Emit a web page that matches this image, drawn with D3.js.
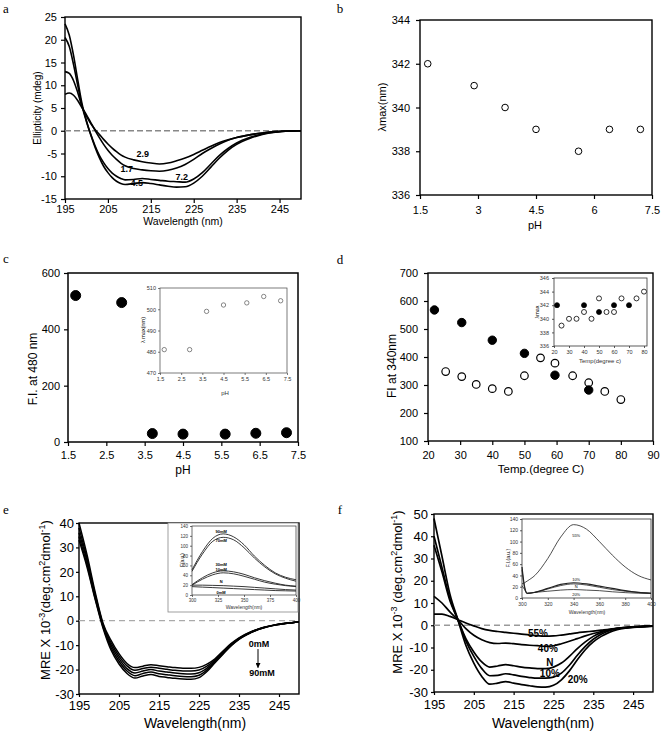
<!DOCTYPE html>
<html><head><meta charset="utf-8">
<script src="https://cdn.jsdelivr.net/npm/d3@7"></script>
<style>body{margin:0;background:#fff}svg{display:block}</style>
</head><body>
<script>
// ================= DATA =================
// Panel a: CD spectra at different pH (ellipticity, mdeg)
const aWave = [195,196,197,198,199,200,201,202,203,204,205,206,207,208,209,211,213,215,217,219,221,223,225,227,229,231,233,235,238,241,244,247,250];
const aSeriesNames = ["1.7","2.9","7.2","4.5"];
const aPH17 = [8.0,8.3,7.8,6.6,5.0,3.5,1.8,0.1,-1.5,-3.0,-4.3,-5.4,-6.3,-7.1,-7.7,-8.3,-8.6,-8.8,-8.9,-8.7,-8.2,-7.4,-6.3,-5.0,-3.9,-2.9,-2.1,-1.5,-0.9,-0.5,-0.2,-0.05,0];
const aPH29 = [13.0,12.6,11.0,8.3,5.2,3.2,1.6,0.3,-0.8,-1.9,-2.9,-3.8,-4.6,-5.3,-5.8,-6.4,-6.8,-7.1,-7.3,-7.1,-6.6,-6.0,-5.2,-4.3,-3.4,-2.6,-2.0,-1.5,-0.9,-0.5,-0.2,-0.05,0];
const aPH72 = [20.5,18.5,14.5,9.8,5.3,2.0,-0.8,-3.3,-5.4,-7.0,-8.3,-9.3,-10.0,-10.5,-10.8,-10.7,-10.5,-10.7,-10.9,-11.1,-11.2,-11.3,-10.6,-9.2,-7.3,-5.4,-3.9,-2.7,-1.5,-0.7,-0.3,-0.05,0];
const aPH45 = [23.5,21.0,16.5,11.0,5.8,2.2,-0.9,-3.6,-5.9,-7.8,-9.2,-10.3,-11.1,-11.6,-11.8,-11.6,-11.4,-11.6,-11.9,-12.2,-12.4,-12.3,-11.5,-10.0,-8.0,-6.0,-4.3,-3.0,-1.7,-0.8,-0.3,-0.05,0];
const aLabelPos = [[209.4,-8.4],[213.1,-5.1],[222.2,-10.2],[211.7,-11.5]];
const aXTicks = [195,205,215,225,235,245];
const aYTicks = [-15,-10,-5,0,5,10,15,20,25];

// Panel b: lambda max vs pH
const bPH = [1.7,2.9,3.7,4.5,5.6,6.4,7.2];
const bLmax = [342,341,340,339,338,339,339];
const bXTicks = [1.5,3,4.5,6,7.5];
const bYTicks = [336,338,340,342,344];

// Panel c: F.I. at 480 nm vs pH, inset lambda max
const cPH = [1.7,2.9,3.7,4.5,5.6,6.4,7.2];
const cFI = [520,495,30,28,28,31,33];
const cInsetLmax = [481,481,499,502,503,506,504];
const cXTicks = [1.5,2.5,3.5,4.5,5.5,6.5,7.5];
const cYTicks = [0,200,400,600];
const cInsetYTicks = [470,480,490,500,510];

// Panel d: FI at 340 nm vs temperature
const dTempFilled = [22,30.5,40,50,59.5,70];
const dFIFilled = [568,523,460,413,335,282];
const dTempOpen = [25.5,30.5,35,40,45,50,55,59.5,65,70,75,80];
const dFIOpen = [348,330,302,287,277,333,397,378,333,308,277,248];
const dInsTempFilled = [22,40,50,60,70];
const dInsLmaxFilled = [342,342,341,342,342];
const dInsTempOpen = [25,30,35,40,45,50,55,60,65,75,80];
const dInsLmaxOpen = [339,340,340,341,340,343,341,341,343,343,344];
const dXTicks = [20,30,40,50,60,70,80,90];
const dYTicks = [100,200,300,400,500,600,700];
const dInsXTicks = [20,30,40,50,60,70,80];
const dInsYTicks = [336,338,340,342,344,346];

// Panel e: MRE vs wavelength for 0-90 mM
const eWave = [195,197,199,201,203,205,207,209,211,213,215,217,219,221,223,225,227,229,231,233,235,238,241,244,247,250];
const e0mM  = [40,27,12,-1,-8,-13.5,-17.5,-19.2,-18.6,-18.0,-18.4,-18.8,-19.2,-19.5,-19.5,-19.1,-17.8,-15.6,-12.4,-9.4,-7.0,-4.5,-2.8,-1.7,-1.0,-0.5];
const e10mM = [38,25.5,11,-1.5,-9,-14.5,-18.5,-20.3,-19.6,-19.0,-19.5,-19.9,-20.3,-20.6,-20.6,-20.2,-18.6,-16.1,-12.8,-9.7,-7.2,-4.6,-2.9,-1.7,-1.0,-0.5];
const e30mM = [36,24.5,10.5,-2,-10,-15.5,-19.6,-21.4,-20.6,-20.0,-20.6,-21.0,-21.4,-21.7,-21.8,-21.3,-19.4,-16.5,-13.1,-9.9,-7.3,-4.7,-2.9,-1.7,-1.0,-0.5];
const e70mM = [34.5,23,9.5,-2.5,-11,-16.6,-20.6,-22.5,-21.6,-21.0,-21.7,-22.1,-22.5,-22.8,-22.9,-22.3,-20.1,-16.8,-13.4,-10.1,-7.5,-4.8,-3.0,-1.8,-1.0,-0.5];
const e90mM = [33,22,9,-3,-12,-17.7,-21.6,-23.5,-22.6,-22.0,-22.8,-23.2,-23.6,-23.9,-24.0,-23.3,-20.8,-17.2,-13.7,-10.3,-7.6,-4.9,-3.0,-1.8,-1.0,-0.5];
const eXTicks = [195,205,215,225,235,245];
const eYTicks = [-30,-20,-10,0,10,20,30,40];
// Panel e inset: fluorescence
const eInsWave = [300,310,320,330,340,350,360,370,380,390,400];
const eIns90 = [51,88,115,124,118,102,79,60,45,36,31];
const eIns70 = [48,83,109,117,112,96,75,57,43,34,28];
const eIns30 = [21,35,45,49,47,42,35,29,24,20,18];
const eIns10 = [20,32,41,45,43,38,32,26,22,19,17];
const eInsN  = [20,20,19.5,19,18,17,15.5,14,12.5,11,10];
const eIns0  = [17,16,15,14,13,12,11,10,9,8.5,8];
const eInsLabels = ["90mM","70mM","30mM","10mM","N","0mM"];
const eInsLabelY = [128,111,62,51,27,5];
const eInsXTicks = [300,325,350,375,400];
const eInsYTicks = [0,20,40,60,80,100,120,140];

// Panel f: MRE vs wavelength at different %
const fWave = [195,197,199,201,203,205,207,209,211,213,215,217,219,221,223,225,227,229,231,233,235,237,239,241,244,247,250];
const f55 = [5,5,4,2.5,1,-0.3,-1.5,-2.3,-2.8,-3.2,-3.6,-4.0,-4.4,-4.7,-4.9,-4.8,-4.4,-3.9,-3.4,-3.0,-2.6,-2.2,-1.8,-1.5,-1.1,-0.7,-0.4];
const f40 = [13,10,6,2.5,-1.5,-4.5,-6.5,-7.8,-8.2,-8.0,-8.3,-8.7,-9.0,-9.2,-9.5,-9.2,-8.3,-7.2,-6.0,-4.8,-3.7,-2.8,-2.0,-1.5,-1.0,-0.7,-0.4];
const fN  = [40,26,12,2.5,-6,-12,-16.5,-18.8,-18.3,-17.7,-18.2,-18.8,-19.2,-19.5,-19.5,-18.8,-17.0,-14.0,-10.5,-7.5,-5.0,-3.3,-2.2,-1.3,-0.8,-0.5,-0.3];
const f10 = [36,24,11,2.5,-7,-14,-19.5,-22.7,-22.5,-21.8,-22.3,-23.0,-23.5,-23.8,-23.8,-23.3,-21.5,-18.0,-13.5,-9.5,-6.3,-4.0,-2.5,-1.5,-0.8,-0.5,-0.3];
const f20 = [48,31,14,2.5,-9,-17,-23,-26.5,-26.0,-25.3,-26.0,-26.7,-27.2,-27.7,-27.8,-27.0,-24.5,-20.5,-15.5,-11.0,-7.5,-5.0,-3.2,-2.0,-1.1,-0.6,-0.3];
const fLabels = ["55%","40%","N","10%","20%"];
const fLabelPos = [[221.1,-3.9],[223.6,-10.3],[224.1,-16.6],[224.1,-21.9],[231.1,-24.3]];
const fXTicks = [195,205,215,225,235,245];
const fYTicks = [-30,-20,-10,0,10,20,30,40,50];
// Panel f inset
const fInsWave = [300,302,304,310,320,330,340,350,360,370,380,390,400];
const fInsA = [25,27,30,40,70,108,130,122,100,76,55,40,32];
const fInsB = [55,20,8,10,17,24,27,25,21,17,13,10,8];
const fInsC = [50,18,8,10,16,22,25,23,19,15,12,10,9];
const fInsD = [22,15,9,10,12,14,15,14,13,11,9.5,8.5,8];
const fInsLabels = ["55%","10%","N","20%"];
const fInsLabelY = [110,32,20,6];
const fInsXTicks = [300,320,340,360,380,400];
const fInsYTicks = [0,20,40,60,80,100,120,140];

// ================= DRAWING =================
const SANS = "'Liberation Sans', Arial, Helvetica, sans-serif";
const SERIF = "'Liberation Serif', 'Times New Roman', serif";
const svg = d3.select("body").append("svg").attr("width",662).attr("height",733)
  .style("font-family",SANS).style("background","#fff");

const defs = svg.append("defs");
defs.append("marker").attr("id","arr").attr("viewBox","0 0 10 10").attr("refX",9).attr("refY",5)
  .attr("markerWidth",5).attr("markerHeight",5).attr("orient","auto")
  .append("path").attr("d","M0,0L10,5L0,10z").attr("fill","#000");

function panel(o){
  const x = d3.scaleLinear().domain(o.xd).range([o.l,o.r]);
  const y = d3.scaleLinear().domain(o.yd).range([o.b,o.t]);
  const g = svg.append("g");
  const fmt = d => String(d);
  const col = o.col || "#000";
  const xa = g.append("g").attr("transform",`translate(0,${o.b})`)
    .call(d3.axisBottom(x).tickValues(o.xt).tickSize(o.ts).tickSizeOuter(0).tickPadding(o.xpad).tickFormat(o.xf||fmt));
  const ya = g.append("g").attr("transform",`translate(${o.l},0)`)
    .call(d3.axisLeft(y).tickValues(o.yt).tickSize(o.ts).tickSizeOuter(0).tickPadding(o.ypad).tickFormat(o.yf||fmt));
  [xa,ya].forEach(a=>{
    a.attr("font-family",null).attr("font-size",null);
    a.select(".domain").remove();
    a.selectAll(".tick line").attr("stroke",col).attr("stroke-width",o.sw);
    a.selectAll(".tick text").attr("fill",o.tcol||"#000").style("font-size",o.fs+"px").style("font-family",SANS);
  });
  g.append("rect").attr("x",o.l).attr("y",o.t).attr("width",o.r-o.l).attr("height",o.b-o.t)
    .attr("fill",o.fill||"none").attr("stroke",col).attr("stroke-width",o.bw||o.sw);
  return {g,x,y};
}
function text(x,y,s,fs,opt={}){
  return svg.append("text").attr("x",x).attr("y",y).text(s)
    .attr("text-anchor",opt.anchor||"middle").style("font-size",fs+"px")
    .style("font-family",opt.family||SANS).style("font-weight",opt.weight||"normal")
    .attr("fill",opt.fill||"#000");
}
function vtext(x,y,s,fs){
  return svg.append("text").attr("transform",`translate(${x},${y}) rotate(-90)`).attr("text-anchor","middle")
    .attr("dy","0.35em").style("font-size",fs+"px").text(s);
}
function curve(p, xs, ys, w, c){
  const line = d3.line().x((d,i)=>p.x(xs[i])).y(d=>p.y(d)).curve(d3.curveMonotoneX);
  p.g.append("path").attr("d",line(ys)).attr("fill","none").attr("stroke",c||"#000").attr("stroke-width",w);
}
function dashedZero(p, x0, x1, c, w, da){
  p.g.append("line").attr("x1",p.x(x0)).attr("x2",p.x(x1)).attr("y1",p.y(0)).attr("y2",p.y(0))
    .attr("stroke",c).attr("stroke-width",w).attr("stroke-dasharray",da);
}
function dots(p, xs, ys, r, filled, sw, c){
  p.g.selectAll(null).data(ys).enter().append("circle")
    .attr("cx",(d,i)=>p.x(xs[i])).attr("cy",d=>p.y(d)).attr("r",r)
    .attr("fill",filled?(c||"#000"):"#fff").attr("stroke",c||"#000").attr("stroke-width",sw);
}

// ---------- Panel a ----------
const pa = panel({l:65,r:301,t:17,b:199,xd:[195,250],yd:[-15,25],xt:aXTicks,yt:aYTicks,ts:4,xpad:2,ypad:4,fs:11,sw:1.2,bw:1.4});
dashedZero(pa,195,250,"#888",1.3,"6,3");
[aPH17,aPH29,aPH72,aPH45].forEach(s=>curve(pa,aWave,s,1.6));
aSeriesNames.forEach((n,i)=>{
  pa.g.append("text").attr("x",pa.x(aLabelPos[i][0])).attr("y",pa.y(aLabelPos[i][1])).attr("dy","0.35em")
    .attr("text-anchor","middle").style("font-size","9px").style("font-weight","bold").text(n);
});
vtext(37,108,"Ellipticity (mdeg)",10);
text(183,225,"Wavelength (nm)",10.5);
text(6,13,"a",13,{family:SERIF});

// ---------- Panel b ----------
const pb = panel({l:420,r:652,t:20,b:195,xd:[1.5,7.5],yd:[336,344],xt:bXTicks,yt:bYTicks,ts:4,xpad:7,ypad:6,fs:11,sw:1.2,bw:1.4});
dots(pb,bPH,bLmax,3.3,false,1);
vtext(382,107,"λmax(nm)",11);
text(535,229,"pH",11);
text(340,13,"b",13,{family:SERIF});

// ---------- Panel c ----------
const pc = panel({l:68,r:298,t:273,b:442,xd:[1.5,7.5],yd:[0,600],xt:cXTicks,yt:cYTicks,ts:4,xpad:5,ypad:4,fs:11,sw:1.2,bw:1.5});
dots(pc,cPH,cFI,5,true,1);
const pci = panel({l:160,r:287,t:288,b:373,xd:[1.5,7.5],yd:[470,510],xt:cXTicks,yt:cInsetYTicks,ts:2,xpad:2,ypad:2,fs:5.5,sw:0.7,col:"#444",tcol:"#333",fill:"#fff"});
dots(pci,cPH,cInsetLmax,2.2,false,0.7,"#555");
vtext(143,330,"λ max(nm)",5.5);
text(225,395,"pH",6,{fill:"#333"});
vtext(33,369,"F.I. at 480 nm",12);
text(183,474,"pH",12);
text(6,263,"c",13,{family:SERIF});

// ---------- Panel d ----------
const pd = panel({l:428,r:653,t:273,b:441,xd:[20,90],yd:[100,700],xt:dXTicks,yt:dYTicks,ts:4,xpad:6,ypad:6,fs:11,sw:1.2,bw:1.4});
dots(pd,dTempOpen,dFIOpen,3.8,false,1.2);
dots(pd,dTempFilled,dFIFilled,4.2,true,1);
const pdi = panel({l:554,r:647,t:278,b:346,xd:[20,82],yd:[336,346],xt:dInsXTicks,yt:dInsYTicks,ts:2,xpad:2,ypad:3,fs:5.5,sw:0.8,col:"#333",tcol:"#333",fill:"#fff"});
dots(pdi,dInsTempOpen,dInsLmaxOpen,2.5,false,0.8);
dots(pdi,dInsTempFilled,dInsLmaxFilled,2.5,true,0.8);
vtext(537,312,"λmax",5.5);
text(600,363,"Temp(degree c)",6,{fill:"#333"});
vtext(392,366,"FI at 340nm",12);
text(541,473,"Temp.(degree C)",11.5);
text(340,264,"d",13,{family:SERIF});

// ---------- Panel e ----------
const pe = panel({l:79,r:299,t:523,b:694,xd:[195,250],yd:[-30,40],xt:eXTicks,yt:eYTicks,ts:3,xpad:4,ypad:2,fs:13,sw:1.2,bw:1.4});
dashedZero(pe,195,250,"#aaa",1.2,"6,4");
[e0mM,e10mM,e30mM,e70mM,e90mM].forEach(s=>curve(pe,eWave,s,1.5));
pe.g.append("text").attr("x",pe.x(240)).attr("y",pe.y(-9.5)).attr("dy","0.35em").attr("text-anchor","middle")
  .style("font-size","9px").style("font-weight","bold").text("0mM");
pe.g.append("line").attr("x1",pe.x(239.75)).attr("x2",pe.x(239.75)).attr("y1",pe.y(-11.6)).attr("y2",pe.y(-19.2))
  .attr("stroke","#000").attr("stroke-width",1).attr("marker-end","url(#arr)");
pe.g.append("text").attr("x",pe.x(240.75)).attr("y",pe.y(-21.4)).attr("dy","0.35em").attr("text-anchor","middle")
  .style("font-size","9px").style("font-weight","bold").text("90mM");
// inset e
svg.append("rect").attr("x",168).attr("y",523).attr("width",130).attr("height",89).attr("fill","#fff").attr("stroke","#888").attr("stroke-width",0.8);
const pei = panel({l:192,r:296,t:526,b:595,xd:[300,400],yd:[0,140],xt:eInsXTicks,yt:eInsYTicks,ts:2,xpad:2,ypad:2,fs:4.5,sw:0.7,col:"#333",tcol:"#333"});
[eIns90,eIns70,eIns30,eIns10,eInsN,eIns0].forEach(s=>curve(pei,eInsWave,s,0.9,"#222"));
eInsLabels.forEach((n,i)=>{
  pei.g.append("text").attr("x",pei.x(328)).attr("y",pei.y(eInsLabelY[i])).attr("dy","0.35em").attr("text-anchor","middle")
    .style("font-size","4px").style("font-weight","bold").text(n);
});
vtext(182,560,"F(a.u.)",4.5);
text(244,609,"Wavelength(nm)",5,{fill:"#333"});
// e titles
{
  const t = svg.append("text").attr("transform","translate(45,600) rotate(-90)").attr("text-anchor","middle")
    .attr("dy","0.35em").style("font-size","13px");
  t.append("tspan").text("MRE X 10");
  t.append("tspan").attr("dy",-5).style("font-size","9px").text("-3");
  t.append("tspan").attr("dy",5).text("(deg.cm");
  t.append("tspan").attr("dy",-5).style("font-size","9px").text("2");
  t.append("tspan").attr("dy",5).text("dmol");
  t.append("tspan").attr("dy",-5).style("font-size","9px").text("-1");
  t.append("tspan").attr("dy",5).text(")");
}
text(195,728,"Wavelength(nm)",14);
text(6,514,"e",13,{family:SERIF});

// ---------- Panel f ----------
const pf = panel({l:434,r:653,t:514,b:692,xd:[195,250],yd:[-30,50],xt:fXTicks,yt:fYTicks,ts:3,xpad:5,ypad:3,fs:13,sw:1.2,bw:1.4});
dashedZero(pf,195,250,"#999",1.3,"6,4");
[f55,f40,fN,f10,f20].forEach(s=>curve(pf,fWave,s,1.7));
fLabels.forEach((n,i)=>{
  pf.g.append("text").attr("x",pf.x(fLabelPos[i][0])).attr("y",pf.y(fLabelPos[i][1])).attr("dy","0.35em")
    .attr("text-anchor","middle").style("font-size","10px").style("font-weight","bold").text(n);
});
const pfi = panel({l:522,r:651,t:519,b:598,xd:[300,400],yd:[0,140],xt:fInsXTicks,yt:fInsYTicks,ts:2,xpad:2,ypad:2,fs:5,sw:0.8,col:"#333",tcol:"#333",fill:"#fff"});
[fInsA,fInsB,fInsC,fInsD].forEach((s,i)=>curve(pfi,fInsWave,s,i==1?1.2:0.8,"#222"));
fInsLabels.forEach((n,i)=>{
  pfi.g.append("text").attr("x",pfi.x(342)).attr("y",pfi.y(fInsLabelY[i])).attr("dy","0.35em").attr("text-anchor","middle")
    .style("font-size","4px").text(n);
});
vtext(508,558,"F.I.(a.u.)",5);
text(587,614,"Wavelength(nm)",5,{fill:"#333"});
{
  const t = svg.append("text").attr("transform","translate(397,592) rotate(-90)").attr("text-anchor","middle")
    .attr("dy","0.35em").style("font-size","13px");
  t.append("tspan").text("MRE X 10");
  t.append("tspan").attr("dy",-5).style("font-size","9px").text("-3");
  t.append("tspan").attr("dy",5).text(" (deg.cm");
  t.append("tspan").attr("dy",-5).style("font-size","9px").text("2");
  t.append("tspan").attr("dy",5).text("dmol");
  t.append("tspan").attr("dy",-5).style("font-size","9px").text("-1");
  t.append("tspan").attr("dy",5).text(")");
}
text(543,728,"Wavelength(nm)",14);
text(340,514,"f",13,{family:SERIF});
</script>
</body></html>
